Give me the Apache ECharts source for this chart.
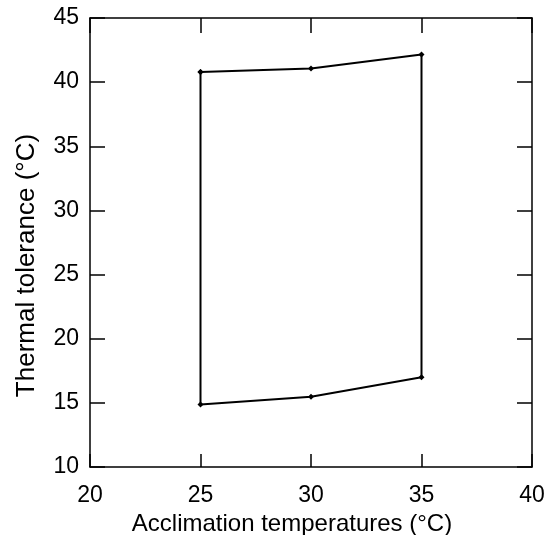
<!DOCTYPE html>
<html>
<head>
<meta charset="utf-8">
<script src="https://cdn.jsdelivr.net/npm/echarts@6/dist/echarts.min.js"></script>
<style>
html,body{margin:0;padding:0;background:#fff;}
#chart{width:552px;height:535px;}
</style>
</head>
<body>
<div id="chart"></div>
<script>
// Polygon outline: upper limit (left to right), then lower limit (right to left), closed
var acclimationTemps = [25, 30, 35, 35, 30, 25, 25];
var thermalTolerance = [40.8, 41.07, 42.15, 17.0, 15.47, 14.87, 40.8];
var xTitle = 'Acclimation temperatures (\u00B0C)';
var yTitle = 'Thermal tolerance (\u00B0C)';

var points = acclimationTemps.map(function (x, i) { return [x, thermalTolerance[i]]; });

var font = 'Liberation Sans, Arial, Helvetica, sans-serif';
var chart = echarts.init(document.getElementById('chart'), null, {renderer: 'canvas'});

var axisLine = {show: true, onZero: false, lineStyle: {color: '#000', width: 1.5}};

chart.setOption({
  animation: false,
  backgroundColor: '#fff',
  grid: {left: 90, right: 20, top: 18, bottom: 68, containLabel: false, outerBoundsMode: 'none'},
  xAxis: [
    {
      type: 'value', min: 20, max: 40, interval: 5, position: 'bottom',
      axisLine: axisLine,
      axisTick: {show: true, inside: true, length: 13, lineStyle: {color: '#000', width: 1.5}},
      axisLabel: {show: true, color: '#000', fontSize: 23, fontFamily: font, margin: 17},
      splitLine: {show: false},
      name: xTitle, nameLocation: 'middle', nameGap: 42,
      nameTextStyle: {color: '#000', fontSize: 24, fontFamily: font, padding: [0, 38, 0, 0]}
    },
    {
      type: 'value', min: 20, max: 40, interval: 5, position: 'top',
      axisLine: axisLine,
      axisTick: {show: true, inside: true, length: 15, lineStyle: {color: '#000', width: 1.5}},
      axisLabel: {show: false},
      splitLine: {show: false}
    }
  ],
  yAxis: [
    {
      type: 'value', min: 10, max: 45, interval: 5, position: 'left',
      axisLine: axisLine,
      axisTick: {show: true, inside: true, length: 15, lineStyle: {color: '#000', width: 1.5}},
      axisLabel: {show: true, color: '#000', fontSize: 23, fontFamily: font, margin: 11},
      splitLine: {show: false},
      name: yTitle, nameLocation: 'middle', nameGap: 50, nameRotate: 90,
      nameTextStyle: {color: '#000', fontSize: 26, fontFamily: font, padding: [0, 46, 0, 0]}
    },
    {
      type: 'value', min: 10, max: 45, interval: 5, position: 'right',
      axisLine: axisLine,
      axisTick: {show: true, inside: true, length: 15, lineStyle: {color: '#000', width: 1.5}},
      axisLabel: {show: false},
      splitLine: {show: false}
    }
  ],
  series: [
    {
      type: 'line',
      xAxisIndex: 0, yAxisIndex: 0,
      data: points,
      symbol: 'diamond', symbolSize: 6,
      itemStyle: {color: '#000'},
      lineStyle: {color: '#000', width: 2},
      silent: true
    }
  ]
});
</script>
</body>
</html>
